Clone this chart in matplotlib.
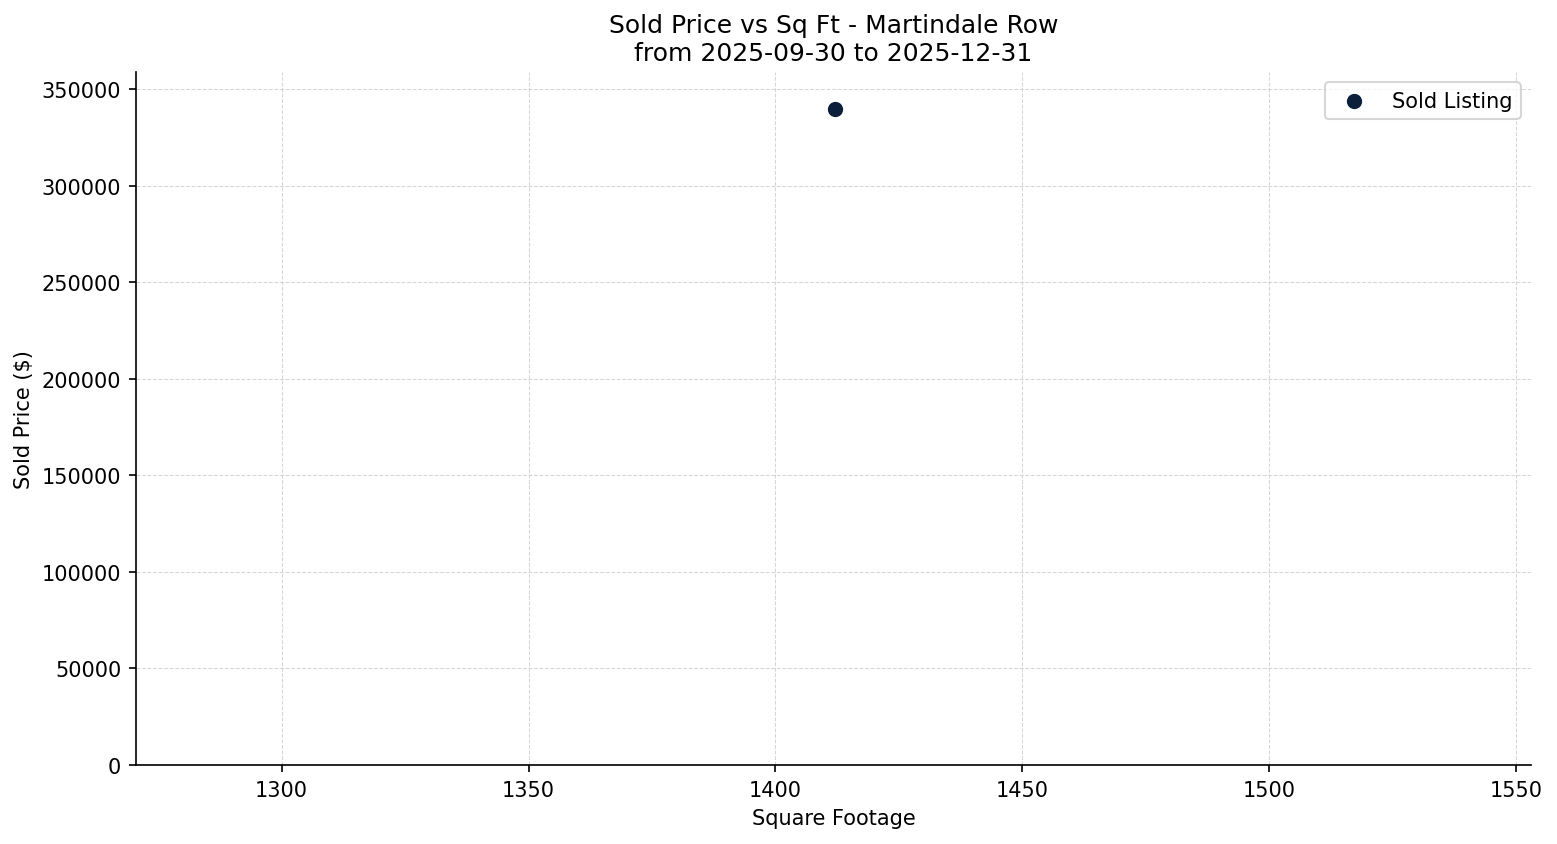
import matplotlib.pyplot as plt

# Data
sq_ft = [1412]
sold_price = [340000]

fig, ax = plt.subplots(figsize=(10.38, 5.633), dpi=150)
fig.subplots_adjust(left=0.0873, right=0.9833, bottom=0.0935, top=0.9136)

ax.scatter(sq_ft, sold_price, color='#0b1f3a', s=40, label='Sold Listing', zorder=3)

ax.set_xlim(sq_ft[0] - 141.5, sq_ft[0] + 141)
ax.set_ylim(0, 359000)
ax.set_xlabel('Square Footage')
ax.set_ylabel('Sold Price ($)')
ax.set_title('Sold Price vs Sq Ft - Martindale Row\nfrom 2025-09-30 to 2025-12-31')
ax.grid(True, linestyle='--', linewidth=0.5, color='#cccccc', alpha=0.8)
ax.spines['top'].set_visible(False)
ax.spines['right'].set_visible(False)
ax.legend(loc='upper right')

fig.savefig('out.png', dpi=150)
